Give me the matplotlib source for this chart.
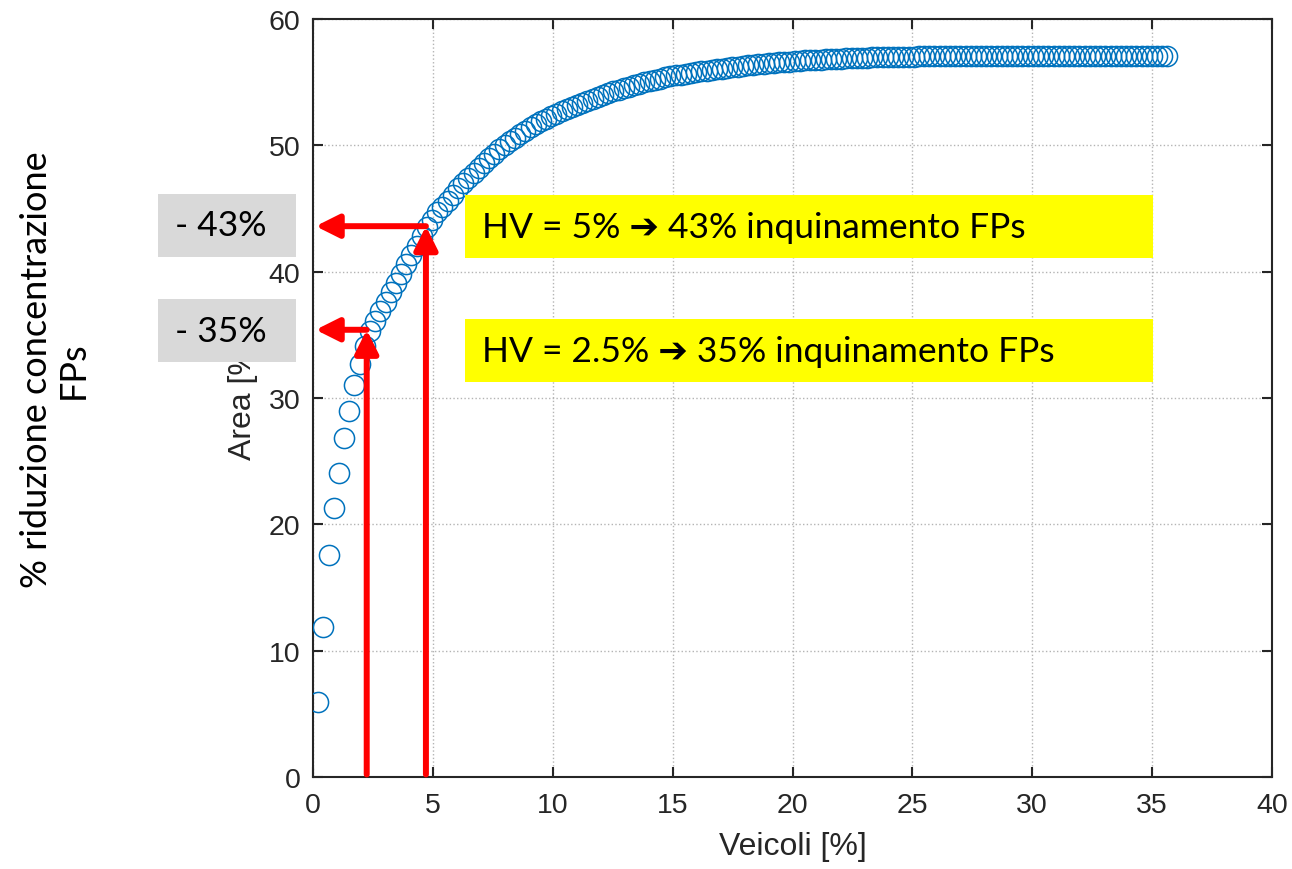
import matplotlib
matplotlib.use("Agg")
import matplotlib.pyplot as plt
from matplotlib.patches import Rectangle
import numpy as np

# curve (points are evenly spaced along x)
x_step = 0.216
area_pct = [
    5.9, 11.9, 17.6, 21.3, 24.1, 26.8, 29.0, 31.0, 32.7, 34.1,
    35.3, 36.1, 36.85, 37.6, 38.4, 39.1, 39.8, 40.6, 41.3, 42.0,
    42.8, 43.5, 44.1, 44.7, 45.1, 45.6, 46.1, 46.6, 47.0, 47.4,
    47.83, 48.24, 48.63, 49.00, 49.35, 49.69, 50.01, 50.32, 50.61, 50.89,
    51.16, 51.42, 51.66, 51.89, 52.11, 52.31, 52.51, 52.69, 52.87, 53.04,
    53.21, 53.37, 53.53, 53.69, 53.84, 53.99, 54.13, 54.27, 54.40, 54.53,
    54.65, 54.77, 54.88, 54.99, 55.10, 55.20, 55.29, 55.38, 55.46, 55.54,
    55.60, 55.67, 55.73, 55.80, 55.85, 55.90, 55.96, 56.01, 56.07, 56.12,
    56.17, 56.23, 56.28, 56.33, 56.37, 56.42, 56.46, 56.50, 56.53, 56.57,
    56.60, 56.63, 56.66, 56.69, 56.72, 56.74, 56.77, 56.79, 56.81, 56.83,
    56.85, 56.87, 56.89, 56.90, 56.92, 56.93, 56.95, 56.96, 56.97, 56.98,
    56.99, 57.00, 57.01, 57.02, 57.02, 57.03, 57.04, 57.04, 57.05, 57.05,
    57.06, 57.06, 57.07, 57.07, 57.07, 57.08, 57.08, 57.08, 57.09, 57.09,
    57.09, 57.09, 57.10, 57.10, 57.10, 57.10, 57.10, 57.10, 57.10, 57.10,
    57.10, 57.10, 57.10, 57.10, 57.10, 57.10, 57.10, 57.10, 57.10, 57.10,
    57.10, 57.10, 57.10, 57.10, 57.10, 57.10, 57.10, 57.10, 57.10, 57.10,
    57.10, 57.10, 57.10, 57.10, 57.10,
]
veicoli = x_step * np.arange(1, len(area_pct) + 1)

# the two highlighted readings: (x where the arrow goes up, y level)
marks_x = [2.24, 4.71]
marks_y = [35.4, 43.6]
box_labels = ["- 35%", "- 43%"]
hv_labels = ["HV = 2.5% \u2794 35% inquinamento FPs", "HV = 5% \u2794 43% inquinamento FPs"]

W, H = 1292, 870
fig = plt.figure(figsize=(W / 100, H / 100), dpi=100)
ax = fig.add_axes([313 / W, 1 - 778 / H, (1272 - 313) / W, (778 - 20) / H])

ink = "#262626"
ax.plot(veicoli, area_pct, "o", ms=14.5, mfc="none", mec="#0072BD", mew=1.1, zorder=3)

ax.set_xlim(0, 40)
ax.set_ylim(0, 60)
ax.set_xticks(np.arange(0, 41, 5))
ax.set_yticks(np.arange(0, 61, 10))
ax.grid(True, ls=":", color="#b4b4b4", lw=1.0)
ax.set_axisbelow(True)
ax.tick_params(direction="in", length=7, width=1.5, top=True, right=True,
               labelsize=20.5, colors=ink)
ax.tick_params(axis="x", pad=11)
ax.tick_params(axis="y", pad=9)
for sp in ax.spines.values():
    sp.set_linewidth(1.5)
    sp.set_color(ink)
for lab in ax.get_xticklabels() + ax.get_yticklabels():
    lab.set_family("Liberation Sans")

ax.set_xlabel("Veicoli [%]", fontsize=23, color=ink, family="Liberation Sans", labelpad=9)
ax.set_ylabel("Area [%]", fontsize=23, color=ink, family="Liberation Sans", labelpad=8)

# red arrows: up from the x axis to the curve, then left to the y axis
for mx, my in zip(marks_x, marks_y):
    aprops = dict(arrowstyle="-|>,head_length=1.0,head_width=0.5", color="#ff0000",
                  lw=4.3, mutation_scale=14, shrinkA=0, shrinkB=0)
    ax.annotate("", xy=(mx, my), xytext=(mx, 0.2), arrowprops=aprops, zorder=5)
    ax.annotate("", xy=(0.11, my), xytext=(mx, my), arrowprops=aprops, zorder=5)

label_font = ["Lato", "DejaVu Sans"]

# grey boxes on the left (drawn over the y label, as in the slide)
grey_boxes = [(158, 300, 296, 363), (158, 195, 296, 258)]
for (x0, y0, x1, y1), txt in zip(grey_boxes, box_labels):
    fig.patches.append(Rectangle((x0 / W, 1 - y1 / H), (x1 - x0) / W, (y1 - y0) / H,
                                 transform=fig.transFigure, fc="#d9d9d9", ec="none", zorder=5))
    fig.text(175 / W, 1 - (y0 + y1) / 2 / H, txt, fontsize=25.5, family=label_font,
             ha="left", va="center", color="black", zorder=6)

# yellow boxes with the readings
yellow_boxes = [(465, 320, 1153, 383), (465, 196, 1153, 259)]
for (x0, y0, x1, y1), txt in zip(yellow_boxes, hv_labels):
    fig.patches.append(Rectangle((x0 / W, 1 - y1 / H), (x1 - x0) / W, (y1 - y0) / H,
                                 transform=fig.transFigure, fc="#ffff00", ec="none", zorder=5))
    fig.text(482 / W, 1 - (y0 + y1) / 2 / H, txt, fontsize=25.5, family=label_font,
             ha="left", va="center", color="black", zorder=6)

fig.text(55 / W, 1 - 370 / H, "% riduzione concentrazione\nFPs", rotation=90,
         fontsize=26, family=label_font, ha="center", va="center",
         multialignment="center", color="black", linespacing=1.15)

fig.savefig("out.png", dpi=100)
